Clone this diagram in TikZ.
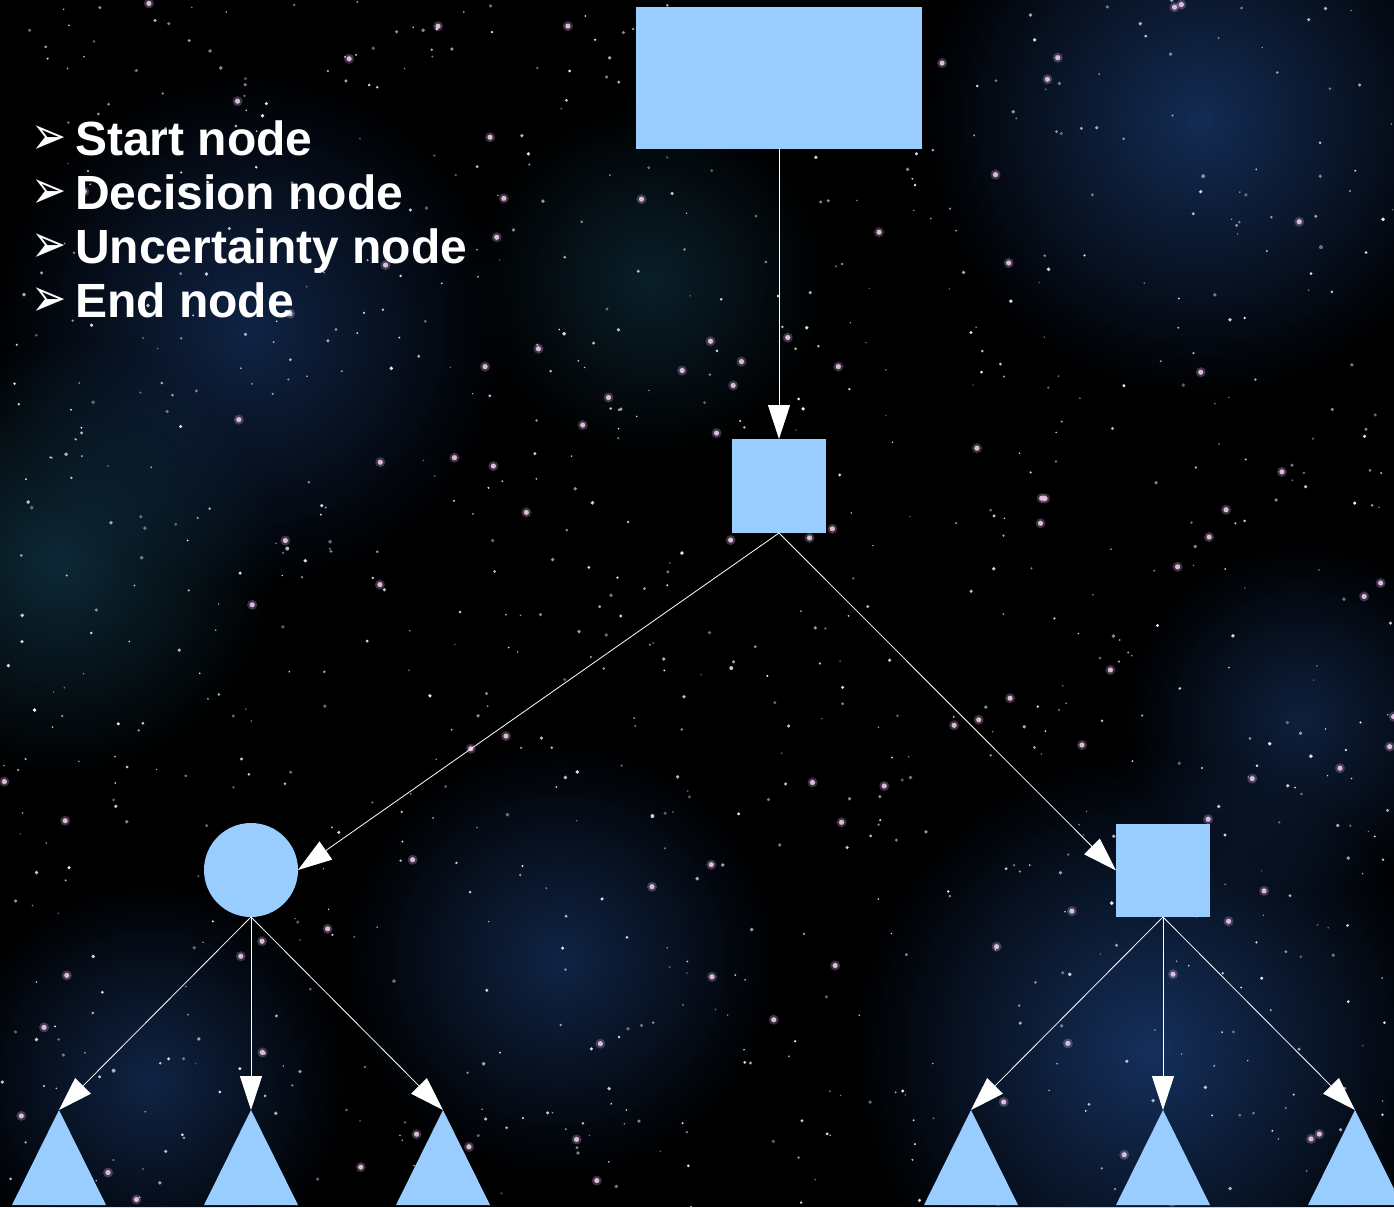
\documentclass[tikz,border=0pt]{standalone}
\usepackage{fontspec}
\setmainfont{Liberation Sans}
\newfontfamily\dejavu{DejaVu Sans}
\usetikzlibrary{arrows.meta,shapes.geometric,fadings}
\definecolor{nodeblue}{HTML}{99CCFF}
\definecolor{nebula}{HTML}{24509A}
\definecolor{nebulateal}{HTML}{1E5A7A}
\definecolor{starpink}{HTML}{F0C8F0}
\tikzfading[name=softglow, inner color=transparent!0, outer color=transparent!100]
\newcommand{\mybullet}{\makebox[44pt][l]{\raisebox{1pt}[0pt][0pt]{\dejavu\fontsize{40}{40}\selectfont\scalebox{1.05}[1.35]{➢}}}}
\begin{document}
\begin{tikzpicture}[x=1pt,y=-1pt,
  shapebox/.style={rectangle,fill=nodeblue,draw=none,inner sep=0pt,outer sep=0pt},
  roundnode/.style={circle,fill=nodeblue,draw=none,inner sep=0pt,outer sep=0pt,minimum size=94pt},
  endnode/.style={isosceles triangle,isosceles triangle stretches,shape border rotate=90,
     fill=nodeblue,draw=none,inner sep=0pt,outer sep=0pt,minimum width=94pt,minimum height=95pt,anchor=apex},
  conn/.style={draw=white,line width=0.8pt,-{Triangle[length=34pt,width=22pt,fill=white]}},
  itemlist/.style={text=white,font=\fontsize{48}{53.7}\selectfont\bfseries,align=left,anchor=north west,inner sep=0pt}]
\useasboundingbox (0,0) rectangle (1394,1207);
\fill[black] (0,0) rectangle (1394,1207);
% nebula
\begin{scope}
\clip (0,0) rectangle (1394,1207);
\fill[nebula,opacity=0.55,path fading=softglow] (1200,120) circle (280pt);
\fill[nebula,opacity=0.45,path fading=softglow] (250,330) circle (260pt);
\fill[nebulateal,opacity=0.45,path fading=softglow] (60,560) circle (220pt);
\fill[nebula,opacity=0.6,path fading=softglow] (1150,1050) circle (300pt);
\fill[nebula,opacity=0.45,path fading=softglow] (560,960) circle (220pt);
\fill[nebula,opacity=0.45,path fading=softglow] (150,1080) circle (200pt);
\fill[nebulateal,opacity=0.35,path fading=softglow] (650,280) circle (180pt);
\fill[nebula,opacity=0.4,path fading=softglow] (1300,720) circle (180pt);
% stars
\pgfmathsetseed{4242}
\foreach \i in {1,...,900}{
  \pgfmathsetmacro\sx{rnd*1394}
  \pgfmathsetmacro\sy{rnd*1207}
  \pgfmathsetmacro\sr{0.7+1.3*rnd}
  \pgfmathsetmacro\so{0.35+0.6*rnd}
  \fill[white,opacity=\so] (\sx,\sy) circle (\sr pt);
}
\foreach \i in {1,...,110}{
  \pgfmathsetmacro\sx{rnd*1394}
  \pgfmathsetmacro\sy{rnd*1207}
  \fill[starpink,opacity=0.25] (\sx,\sy) circle (5pt);
  \fill[starpink,opacity=0.9] (\sx,\sy) circle (2.6pt);
}
\end{scope}
% legend
\node[itemlist] (legend) at (31,121) {\mybullet Start node\\ \mybullet Decision node\\ \mybullet Uncertainty node\\ \mybullet End node};
% nodes
\node[shapebox,minimum width=286pt,minimum height=142pt] (start) at (779,78) {};
\node[shapebox,minimum width=94pt,minimum height=94pt] (dec) at (779,486) {};
\node[roundnode] (unc) at (251,870) {};
\node[shapebox,minimum width=94pt,minimum height=93pt] (dec2) at (1163,870.5) {};
\node[endnode] (e1) at (59,1110) {};
\node[endnode] (e2) at (251,1110) {};
\node[endnode] (e3) at (443,1110) {};
\node[endnode] (e4) at (971,1110) {};
\node[endnode] (e5) at (1163,1110) {};
\node[endnode] (e6) at (1355,1110) {};
% connectors
\draw[conn] (start.south) -- (dec.north);
\draw[conn] (dec.south) -- (unc.east);
\draw[conn] (dec.south) -- (dec2.west);
\draw[conn] (unc.south) -- (e1.apex);
\draw[conn] (unc.south) -- (e2.apex);
\draw[conn] (unc.south) -- (e3.apex);
\draw[conn] (dec2.south) -- (e4.apex);
\draw[conn] (dec2.south) -- (e5.apex);
\draw[conn] (dec2.south) -- (e6.apex);
\end{tikzpicture}
\end{document}
